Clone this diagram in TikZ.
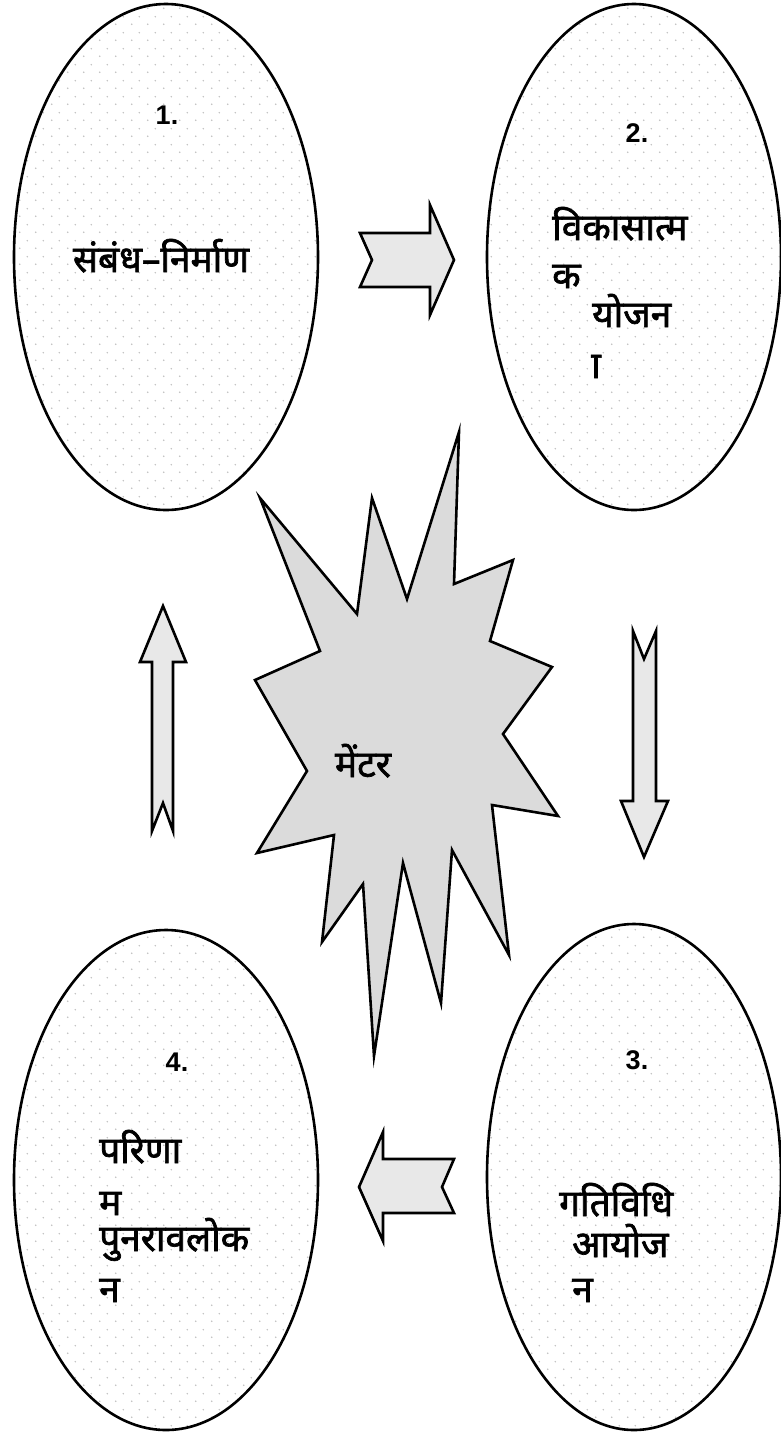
\documentclass[tikz,border=0pt]{standalone}
\usepackage{fontspec}
\setmainfont{Liberation Sans}
\newfontfamily\hindi[Script=Devanagari, FakeBold=1.8]{Noto Sans}
\newfontfamily\hindilat[Script=Latin, FakeBold=1.8]{Noto Sans}
\usetikzlibrary{shapes.geometric,patterns}

\pgfdeclarepatternformonly{sdots}{\pgfpointorigin}{\pgfpoint{16pt}{16pt}}{\pgfpoint{16pt}{16pt}}{%
  \pgfpathcircle{\pgfpoint{4pt}{4pt}}{0.9pt}%
  \pgfpathcircle{\pgfpoint{12pt}{12pt}}{0.9pt}%
  \pgfusepath{fill}}

\tikzset{
  oval/.style={ellipse, draw=black, line width=2.6pt, pattern=sdots,
    pattern color=black!25, inner sep=0pt},
  blockarrow/.style={draw=black, line width=2.6pt, fill=black!9, line join=miter},
  burst/.style={draw=black, line width=2.6pt, fill=black!14, line join=miter},
  num/.style={font=\bfseries\fontsize{27}{30}\selectfont, inner sep=0pt},
  hin/.style={font=\hindi\fontsize{37}{42}\selectfont, inner sep=0pt},
}

\begin{document}
\begin{tikzpicture}[x=1pt,y=-1pt]
\useasboundingbox (0,0) rectangle (780,1436);

% ovals
\node[oval, minimum width=304pt, minimum height=506pt] (e1) at (166,257) {};
\node[oval, minimum width=294pt, minimum height=506pt] (e2) at (634,257) {};
\node[oval, minimum width=294pt, minimum height=506pt] (e3) at (634,1177) {};
\node[oval, minimum width=304pt, minimum height=500pt] (e4) at (166,1180) {};

% right arrow
\draw[blockarrow] (360,233) -- (430,233) -- (430,205) -- (454,260) -- (430,315)
  -- (430,287) -- (360,287) -- (372,260) -- cycle;
% down arrow
\draw[blockarrow] (633,631) -- (644,659) -- (656,631) -- (656,801) -- (668,801)
  -- (644,857) -- (621,801) -- (633,801) -- cycle;
% left arrow
\draw[blockarrow] (454,1159) -- (383,1159) -- (383,1132) -- (359,1187) -- (383,1241)
  -- (383,1213) -- (454,1213) -- (442,1187) -- cycle;
% up arrow
\draw[blockarrow] (152,831) -- (152,662) -- (140,662) -- (163,606) -- (186,662)
  -- (173,662) -- (173,831) -- (163,803) -- cycle;

% burst
\draw[burst] (260,498) -- (357,614) -- (372,498) -- (407,599) -- (459,432)
  -- (454,584) -- (513,560) -- (490,641) -- (552,667) -- (503,734) -- (558,816)
  -- (492,805) -- (509,955) -- (452,850) -- (441,1003) -- (403,863) -- (374,1056)
  -- (363,884) -- (322,942) -- (334,835) -- (257,853) -- (307,771) -- (255,680)
  -- (320,651) -- cycle;

% texts
\node[num] (n1) at (167,115) {1.};
\node[hin, anchor=base] (t1) at (161,272) {संबंध–निर्माण};

\node[num] (n2) at (637,133) {2.};
\node[hin, anchor=base west] (t2a) at (552,240) {विकासात्म};
\node[hin, anchor=base west] (t2b) at (552,288) {क};
\node[hin, anchor=base west] (t2c) at (592,327) {योजन};
\node[font=\hindilat\fontsize{37}{42}\selectfont, inner sep=0pt, anchor=base west] (t2d) at (591,378) {ा};

\node[hin, anchor=base] (m) at (363,777) {मेंटर};

\node[num] (n3) at (637,1060) {3.};
\node[hin, anchor=base west] (t3a) at (559,1216) {गतिविधि};
\node[hin, anchor=base west] (t3b) at (572,1257) {आयोज};
\node[hin, anchor=base west] (t3c) at (572,1302) {न};

\node[num] (n4) at (177,1062) {4.};
\node[hin, anchor=base west] (t4a) at (99,1163) {परिणा};
\node[hin, anchor=base west] (t4b) at (99,1215) {म};
\node[hin, anchor=base west] (t4c) at (99,1251) {पुनरावलोक};
\node[hin, anchor=base west] (t4d) at (99,1302) {न};
\end{tikzpicture}
\end{document}
